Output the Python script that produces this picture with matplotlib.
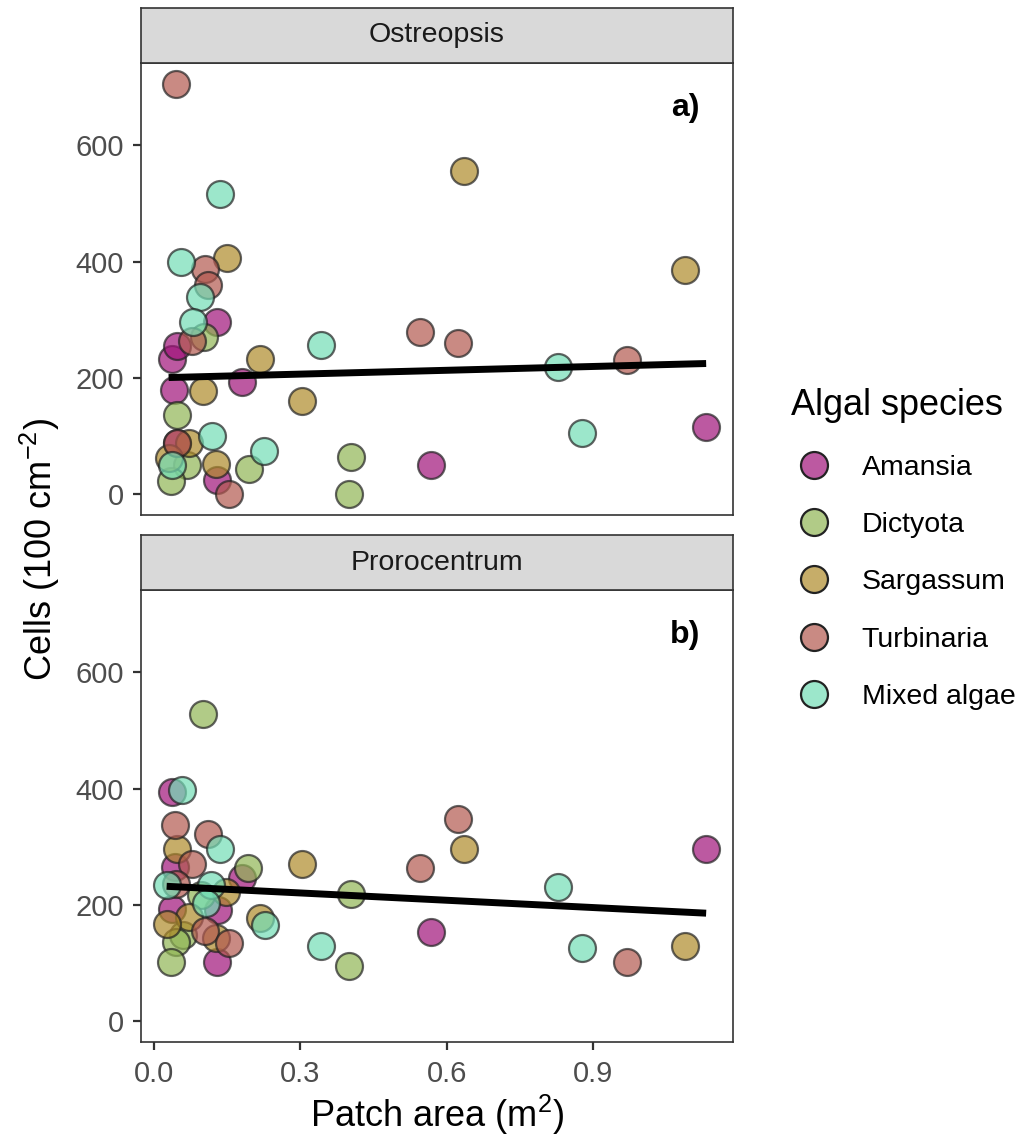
import matplotlib
matplotlib.use("Agg")
import matplotlib.pyplot as plt
from matplotlib.lines import Line2D
import numpy as np

plt.rcParams['font.family'] = ['Liberation Sans', 'DejaVu Sans']
plt.rcParams['mathtext.fontset'] = 'custom'
plt.rcParams['mathtext.rm'] = 'Liberation Sans'
plt.rcParams['mathtext.it'] = 'Liberation Sans:italic'

# ---------------- data ----------------
species = ["Amansia", "Dictyota", "Sargassum", "Turbinaria", "Mixed algae"]
species_colors = ["#A0137A", "#91B654", "#AF8A2A", "#B2584F", "#73DEB6"]

panel_titles = ["Ostreopsis", "Prorocentrum"]
panel_tags = ["a)", "b)"]

# Ostreopsis (panel a)
ost_x = [0.038, 0.042, 0.047, 0.048, 0.129, 0.129, 0.181, 0.568, 1.131,          # Amansia
         0.103, 0.047, 0.067, 0.194, 0.035, 0.404, 0.400,                           # Dictyota
         0.149, 0.217, 0.100, 0.303, 0.072, 0.030, 0.127, 0.635, 1.088,             # Sargassum
         0.045, 0.104, 0.110, 0.077, 0.048, 0.154, 0.544, 0.622, 0.968,             # Turbinaria
         0.136, 0.055, 0.094, 0.079, 0.343, 0.118, 0.226, 0.038, 0.828, 0.877]      # Mixed algae
ost_y = [232, 180, 255, 88, 297, 25, 193, 51, 116,
         270, 137, 51, 44, 23, 64, 0,
         406, 232, 178, 161, 88, 63, 52, 555, 386,
         706, 387, 360, 263, 88, 0, 279, 260, 231,
         516, 399, 340, 296, 257, 101, 75, 50, 219, 105]
ost_sp = (["Amansia"] * 9 + ["Dictyota"] * 7 + ["Sargassum"] * 9
          + ["Turbinaria"] * 9 + ["Mixed algae"] * 10)

# Prorocentrum (panel b)
pro_x = [0.038, 0.044, 0.181, 0.036, 0.132, 0.129, 0.568, 1.131,                   # Amansia
         0.100, 0.192, 0.096, 0.059, 0.045, 0.035, 0.404, 0.400,                    # Dictyota
         0.047, 0.303, 0.147, 0.072, 0.027, 0.127, 0.217, 0.635, 1.088,             # Sargassum
         0.044, 0.110, 0.077, 0.045, 0.105, 0.154, 0.622, 0.544, 0.968,             # Turbinaria
         0.057, 0.135, 0.026, 0.116, 0.106, 0.227, 0.343, 0.828, 0.877]             # Mixed algae
pro_y = [395, 265, 247, 194, 192, 102, 154, 296,
         529, 264, 217, 149, 137, 102, 219, 96,
         296, 270, 223, 180, 167, 143, 177, 296, 129,
         338, 322, 270, 237, 156, 134, 347, 263, 102,
         398, 296, 234, 234, 203, 166, 129, 231, 126]
pro_sp = (["Amansia"] * 8 + ["Dictyota"] * 8 + ["Sargassum"] * 9
          + ["Turbinaria"] * 9 + ["Mixed algae"] * 9)

# linear fits (intercept, slope)
ost_fit = (200.2, 21.9)
pro_fit = (233.3, -41.8)

x_ticks = [0.0, 0.3, 0.6, 0.9]
x_ticklabels = ["0.0", "0.3", "0.6", "0.9"]
y_ticks = [0, 200, 400, 600]
y_ticklabels = ["0", "200", "400", "600"]

# ---------------- figure ----------------
W, H = 1023, 1141
fig = plt.figure(figsize=(W / 100, H / 100), dpi=100)

def fx(px):
    return px / W

def fy(py):
    return 1 - py / H

ax_left, ax_right = 141, 733
panels_px = [(63, 515), (590, 1042)]
strip_h = 55

alpha = 0.7
ms = 19.4
edge = "#222222"
color_of = dict(zip(species, species_colors))

datasets = [(ost_x, ost_y, ost_sp, ost_fit), (pro_x, pro_y, pro_sp, pro_fit)]

for i, ((top, bot), (xs, ys, sps, fit)) in enumerate(zip(panels_px, datasets)):
    ax = fig.add_axes([fx(ax_left), fy(bot), fx(ax_right) - fx(ax_left), (bot - top) / H])
    xs = np.asarray(xs)
    ys = np.asarray(ys)
    sps = np.asarray(sps)
    for sp in species:
        m = sps == sp
        ax.scatter(xs[m], ys[m], s=ms ** 2, facecolor=color_of[sp], alpha=alpha,
                   edgecolor=edge, linewidth=1.6, zorder=2)
    xl = np.array([xs.min(), xs.max()])
    ax.plot(xl, fit[0] + fit[1] * xl, color="black", lw=5, solid_capstyle="butt", zorder=3)
    ax.set_xlim(-0.0265, 1.186)
    ax.set_ylim(-35.3, 741.3)
    ax.set_xticks(x_ticks)
    ax.set_yticks(y_ticks)
    ax.set_yticklabels(y_ticklabels)
    if i == 1:
        ax.set_xticklabels(x_ticklabels)
    else:
        ax.set_xticklabels([])
    ax.tick_params(axis="both", labelsize=21, labelcolor="#4D4D4D", color="#333333",
                   length=6, width=1.6)
    ax.tick_params(axis="y", pad=6.3)
    ax.tick_params(axis="x", pad=6.8)
    if i == 0:
        ax.tick_params(axis="x", length=0)
    for s in ax.spines.values():
        s.set_color("#333333")
        s.set_linewidth(1.2)
    ax.text(0.919, 0.90, panel_tags[i], transform=ax.transAxes, fontsize=23,
            fontweight="bold", ha="center", va="center")
    # facet strip
    sax = fig.add_axes([fx(ax_left), fy(top), fx(ax_right) - fx(ax_left), strip_h / H])
    sax.set_xticks([])
    sax.set_yticks([])
    sax.set_facecolor("#D9D9D9")
    for s in sax.spines.values():
        s.set_color("#333333")
        s.set_linewidth(1.2)
    sax.text(0.5, 0.5, panel_titles[i], transform=sax.transAxes, fontsize=20.5,
             color="#1A1A1A", ha="center", va="center")

fig.text(fx(40), fy(550), "Cells (100 cm$^{-2}$)", rotation=90, fontsize=26,
         ha="center", va="center")
fig.text(fx(437), fy(1115), "Patch area (m$^{2}$)", fontsize=26, ha="center", va="center")

handles = [Line2D([], [], marker="o", linestyle="", markersize=ms,
                  markerfacecolor=matplotlib.colors.to_rgba(c, alpha),
                  markeredgecolor=edge, markeredgewidth=1.6) for c in species_colors]
leg = fig.legend(handles, species, loc="upper left", bbox_to_anchor=(fx(777), fy(374)),
                 frameon=False, fontsize=20.5, title="Algal species", title_fontsize=26,
                 labelspacing=1.1, handletextpad=0.88, borderpad=0, handlelength=1.6)
leg._legend_box.align = "left"

fig.savefig("out.png", dpi=100)
